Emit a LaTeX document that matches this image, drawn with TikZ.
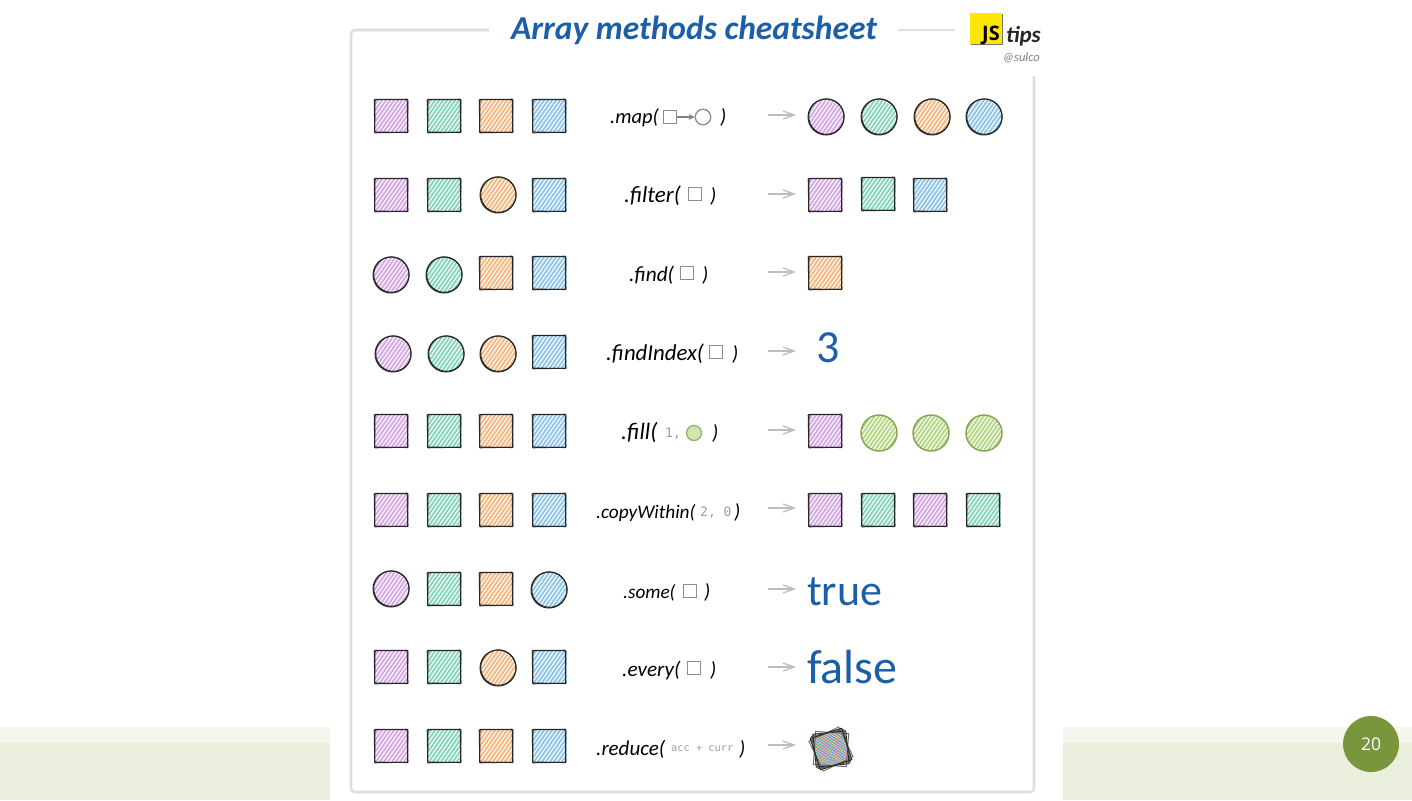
\documentclass[tikz,border=0pt]{standalone}
\usepackage{fontspec}
\setmainfont{Open Sans}
\newfontfamily\handf{Carlito}
\newfontfamily\monof{DejaVu Sans Mono}
\usetikzlibrary{arrows.meta}
\definecolor{pur}{HTML}{D6A8E6}
\definecolor{grn}{HTML}{86D6BA}
\definecolor{org}{HTML}{F5B880}
\definecolor{blu}{HTML}{90C6EC}
\definecolor{lim}{HTML}{B5D884}
\definecolor{ink}{HTML}{262626}
\definecolor{title}{HTML}{1C5FA8}
\definecolor{frame}{HTML}{DEDEDE}
\definecolor{band}{HTML}{E9EEDD}
\definecolor{bandl}{HTML}{F5F7EF}
\definecolor{badge}{HTML}{7A963C}
\tikzset{
  x=1pt,y=-1pt,
  hatchline/.style={line width=1.9pt},
  outl/.style={draw=ink,line width=1pt,line join=round},
  blank/.style={inner sep=0pt,outer sep=0pt,minimum size=34pt},
  arrowgray/.style={draw=black!26,line width=1.3pt,-{Straight Barb[length=11pt,width=8pt]}},
  code/.style={font=\handf\itshape\fontsize{#1}{24}\selectfont,text=black,inner sep=0pt,anchor=base west},
  code/.default=20.5,
  mono/.style={font=\monof\fontsize{#1}{14}\selectfont,text=black!38,inner sep=0pt,anchor=base west},
  value/.style={font=\handf\fontsize{#1}{40}\selectfont,text=title,inner sep=0pt,anchor=base west},
}
\newcommand{\hatchfill}[3]{% cx cy colour
  \foreach \d in {-40,-36,...,40}
    \draw[#3,hatchline] (#1+\d-21,#2+30) -- (#1+\d+21,#2-30);}
\newcommand{\sq}[4]{% name cx cy colour
  \node[blank] (#1) at (#2,#3) {};
  \begin{scope}
    \clip (#2-16.5,#3-16.5) rectangle (#2+17.5,#3+16.5);
    \hatchfill{#2}{#3}{#4}
  \end{scope}
  \draw[outl,rotate around={1:(#2,#3)}] (#2-16.5,#3-16.5) rectangle (#2+16.5,#3+16.5);
  \draw[outl,rotate around={-0.8:(#2,#3)}] (#2-16.2,#3-16.5) rectangle (#2+16.7,#3+16.3);}
\newcommand{\ci}[4]{% name cx cy colour
  \node[blank] (#1) at (#2,#3) {};
  \begin{scope}
    \clip (#2,#3) circle (17.5);
    \hatchfill{#2}{#3}{#4}
  \end{scope}
  \draw[outl] (#2,#3) circle (18);
  \draw[outl] (#2+0.4,#3-0.4) circle (17.7);}
\newcommand{\cig}[4]{% lime circle with lime outline
  \node[blank] (#1) at (#2,#3) {};
  \begin{scope}
    \clip (#2,#3) circle (17.5);
    \hatchfill{#2}{#3}{#4}
  \end{scope}
  \draw[draw=badge!90,line width=1.4pt] (#2,#3) circle (18);}
\newcommand{\arr}[2]{% row id, y
  \coordinate (a#1) at (768,#2); \coordinate (b#1) at (796,#2);
  \draw[arrowgray] (a#1) -- (b#1);}
\newcommand{\minisq}[3]{% name cx cy
  \node[draw=black!45,line width=1.3pt,minimum size=13.5pt,inner sep=0pt] (#1) at (#2,#3) {};}
\begin{document}
\begin{tikzpicture}
\useasboundingbox (0,0) rectangle (1412,800);
\fill[white] (0,0) rectangle (1412,800);
% slide bands
\fill[bandl] (0,727) rectangle (330,743);
\fill[band] (0,743) rectangle (330,800);
\fill[bandl] (1063,727) rectangle (1412,743);
\fill[band] (1063,743) rectangle (1412,800);
\node[circle,fill=badge,minimum size=56pt,inner sep=0pt,text=white,font=\fontsize{17.5}{20}\selectfont] (page) at (1371,744) {20};
% frame
\coordinate (f1) at (489,30); \coordinate (f2) at (351,30); \coordinate (f3) at (351,792);
\coordinate (f4) at (1034,792); \coordinate (f5) at (1034,76);
\coordinate (f6) at (898,30); \coordinate (f7) at (955,30);
\draw[frame,line width=2.6pt,rounded corners=4pt] (f1) -- (f2) -- (f3) -- (f4) -- (f5);
\draw[frame,line width=2.6pt] (f6) -- (f7);
% title
\node[font=\handf\itshape\bfseries\fontsize{33.5}{40}\selectfont,text=title,inner sep=0pt,anchor=base] (ttl) at (694,40) {Array methods cheatsheet};
% logo
\node[fill=black!55,minimum width=32pt,minimum height=31pt,inner sep=0pt,anchor=north west] (jsshade) at (971,14) {};
\node[fill=yellow!90!orange,minimum width=32pt,minimum height=31pt,inner sep=0pt,anchor=north west] (js) at (970,13) {};
\node[font=\fontsize{20}{22}\selectfont\bfseries,inner sep=0pt,anchor=base east] (jst) at (1000,41) {JS};
\node[font=\handf\itshape\bfseries\fontsize{23}{28}\selectfont,text=ink,inner sep=0pt,anchor=base west] (tips) at (1006,42) {tips};
\node[font=\handf\itshape\fontsize{12.5}{16}\selectfont,text=black!50,inner sep=0pt,anchor=base east] (sulco) at (1040,61) {@sulco};
% row 1
\sq{r1a}{391}{116}{pur}\sq{r1b}{444}{116}{grn}\sq{r1c}{496}{116}{org}\sq{r1d}{549}{116}{blu}
\node[code=20.5] (l1) at (610,123) {.map(};
\minisq{m1a}{670}{117}
\node[circle,draw=black!45,line width=1.3pt,minimum size=15.5pt,inner sep=0pt] (m1b) at (703,117) {};
\draw[draw=black!50,line width=1.1pt,-{Stealth[length=6pt,width=6pt]}] (m1a) -- (m1b);
\node[code] (c1) at (720,123) {)};
\arr{1}{115}
\ci{o1a}{826}{117}{pur}\ci{o1b}{879}{117}{grn}\ci{o1c}{932}{117}{org}\ci{o1d}{984}{117}{blu}
% row 2
\sq{r2a}{391}{195}{pur}\sq{r2b}{444}{195}{grn}\ci{r2c}{498}{195}{org}\sq{r2d}{549}{195}{blu}
\node[code=23] (l2) at (624,202) {.filter(};
\minisq{m2}{695}{194}
\node[code] (c2) at (710,202) {)};
\arr{2}{194}
\sq{o2a}{825}{195}{pur}\sq{o2b}{878}{194}{grn}\sq{o2c}{930}{195}{blu}
% row 3
\ci{r3a}{391}{275}{pur}\ci{r3b}{444}{275}{grn}\sq{r3c}{496}{273}{org}\sq{r3d}{549}{273}{blu}
\node[code=21.3] (l3) at (629,281) {.find(};
\minisq{m3}{687}{273}
\node[code] (c3) at (702,281) {)};
\arr{3}{272}
\sq{o3a}{825}{273}{org}
% row 4
\ci{r4a}{393}{354}{pur}\ci{r4b}{446}{354}{grn}\ci{r4c}{498}{354}{org}\sq{r4d}{549}{352}{blu}
\node[code=22.8] (l4) at (606,360) {.findIndex(};
\minisq{m4}{716}{352}
\node[code] (c4) at (732,360) {)};
\arr{4}{351}
\node[value=46] (v4) at (816,362) {3};
% row 5
\sq{r5a}{391}{431}{pur}\sq{r5b}{444}{431}{grn}\sq{r5c}{496}{431}{org}\sq{r5d}{549}{431}{blu}
\node[code=23.5] (l5) at (621,439) {.fill(};
\node[mono=13] (n5) at (665,437) {1,};
\node[circle,draw=badge!75,line width=1.3pt,minimum size=15pt,inner sep=0pt,fill=lim!65] (m5) at (694,433) {};
\node[code] (c5) at (712,439) {)};
\arr{5}{430}
\sq{o5a}{825}{431}{pur}\cig{o5b}{879}{433}{lim}\cig{o5c}{931}{433}{lim}\cig{o5d}{984}{433}{lim}
% row 6
\sq{r6a}{391}{510}{pur}\sq{r6b}{444}{510}{grn}\sq{r6c}{496}{510}{org}\sq{r6d}{549}{510}{blu}
\node[code=19.3] (l6) at (596,518) {.copyWithin(};
\node[mono=13] (n6) at (700,516) {2, 0};
\node[code] (c6) at (734,518) {)};
\arr{6}{508}
\sq{o6a}{825}{510}{pur}\sq{o6b}{878}{510}{grn}\sq{o6c}{930}{510}{pur}\sq{o6d}{983}{510}{grn}
% row 7
\ci{r7a}{391}{589}{pur}\sq{r7b}{444}{589}{grn}\sq{r7c}{496}{589}{org}\ci{r7d}{549}{590}{blu}
\node[code=19.2] (l7) at (623,598) {.some(};
\minisq{m7}{690}{591}
\node[code] (c7) at (704,598) {)};
\arr{7}{589}
\node[value=44] (v7) at (807,605) {true};
% row 8
\sq{r8a}{391}{667}{pur}\sq{r8b}{444}{667}{grn}\ci{r8c}{498}{668}{org}\sq{r8d}{549}{667}{blu}
\node[code=21.2] (l8) at (622,676) {.every(};
\minisq{m8}{694}{668}
\node[code] (c8) at (710,676) {)};
\arr{8}{667}
\node[value=48] (v8) at (807,683) {false};
% row 9
\sq{r9a}{391}{746}{pur}\sq{r9b}{444}{746}{grn}\sq{r9c}{496}{746}{org}\sq{r9d}{549}{746}{blu}
\node[code=21] (l9) at (596,755) {.reduce(};
\node[mono=10.3] (n9) at (671,751) {acc + curr};
\node[code] (c9) at (739,755) {)};
\arr{9}{745}
% reduce result: stacked rotated squares
\coordinate (st) at (831,749);
\begin{scope}
  \clip[rotate around={14:(st)}] (814.5,732.5) rectangle (847.5,765.5);
  \foreach \d [count=\k] in {-40,-37,...,40}{
    \pgfmathsetmacro{\cl}{{"pur","grn","org","blu"}[mod(\k,4)]}
    \draw[\cl,hatchline] (831+\d-21,779) -- (831+\d+21,719);}
  \foreach \d [count=\k] in {-40,-36,...,40}{
    \pgfmathsetmacro{\cl}{{"blu","org","grn","pur"}[mod(\k,4)]}
    \draw[\cl!80!black,line width=1pt] (831+\d-30,729) -- (831+\d+30,769);}
\end{scope}
\draw[draw=pur!60!black,line width=1pt,rotate around={-4:(st)}] (814.5,732.5) rectangle (847.5,765.5);
\draw[draw=org!60!black,line width=1pt,rotate around={26:(st)}] (814.5,732.5) rectangle (847.5,765.5);
\draw[outl,rotate around={6:(st)}] (814.5,732.5) rectangle (847.5,765.5);
\draw[draw=grn!50!black,line width=1pt,rotate around={12:(st)}] (814.5,732.5) rectangle (847.5,765.5);
\draw[outl,rotate around={18:(st)}] (814.5,732.5) rectangle (847.5,765.5);
\end{tikzpicture}
\end{document}
